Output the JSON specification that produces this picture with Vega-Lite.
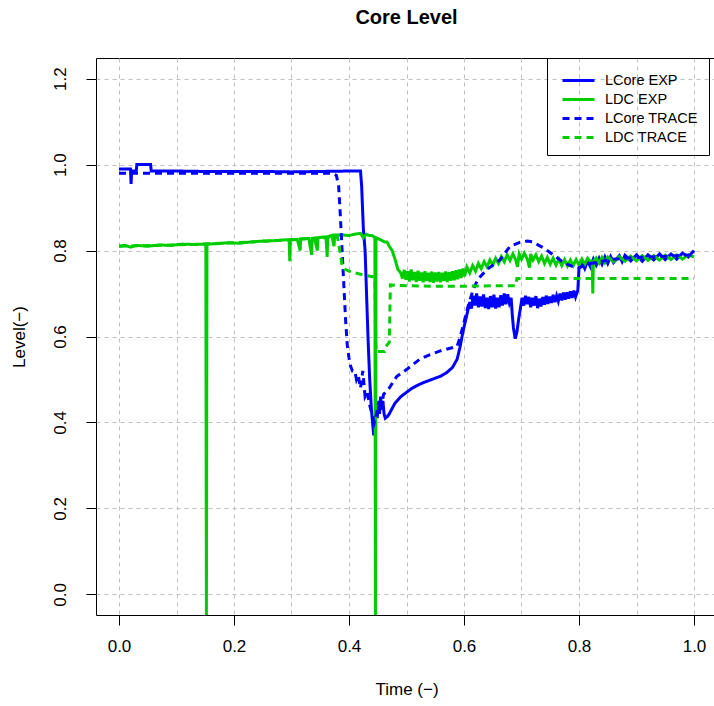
{
"$schema": "https://vega.github.io/schema/vega-lite/v6.json",
"width": 621, "height": 557,
"autosize": {"type": "none"},
"padding": {"left": 96, "top": 58, "right": 0, "bottom": 91},
"background": "white",
"title": {"text": "Core Level", "fontSize": 20, "fontWeight": "bold", "font": "Liberation Sans", "anchor": "middle", "offset": 30, "color": "black"},
"data": {"values": [
{"s":"LCore EXP","t":0,"v":0.99},{"s":"LCore EXP","t":0.01,"v":0.99},{"s":"LCore EXP","t":0.02,"v":0.99},{"s":"LCore EXP","t":0.021,"v":0.955},{"s":"LCore EXP","t":0.022,"v":0.985},{"s":"LCore EXP","t":0.03,"v":0.985},{"s":"LCore EXP","t":0.031,"v":1.0},{"s":"LCore EXP","t":0.055,"v":1.0},{"s":"LCore EXP","t":0.056,"v":0.985},{"s":"LCore EXP","t":0.1,"v":0.985},{"s":"LCore EXP","t":0.15,"v":0.984},{"s":"LCore EXP","t":0.2,"v":0.984},{"s":"LCore EXP","t":0.25,"v":0.984},{"s":"LCore EXP","t":0.3,"v":0.983},{"s":"LCore EXP","t":0.35,"v":0.984},{"s":"LCore EXP","t":0.4,"v":0.985},{"s":"LCore EXP","t":0.42,"v":0.985},{"s":"LCore EXP","t":0.422,"v":0.95},{"s":"LCore EXP","t":0.425,"v":0.85},{"s":"LCore EXP","t":0.428,"v":0.8},{"s":"LCore EXP","t":0.43,"v":0.72},{"s":"LCore EXP","t":0.433,"v":0.6},{"s":"LCore EXP","t":0.436,"v":0.5},{"s":"LCore EXP","t":0.439,"v":0.43},{"s":"LCore EXP","t":0.441,"v":0.4},{"s":"LCore EXP","t":0.443,"v":0.37},{"s":"LCore EXP","t":0.445,"v":0.39},{"s":"LCore EXP","t":0.447,"v":0.43},{"s":"LCore EXP","t":0.449,"v":0.41},{"s":"LCore EXP","t":0.451,"v":0.44},{"s":"LCore EXP","t":0.453,"v":0.42},{"s":"LCore EXP","t":0.455,"v":0.46},{"s":"LCore EXP","t":0.457,"v":0.43},{"s":"LCore EXP","t":0.459,"v":0.45},{"s":"LCore EXP","t":0.461,"v":0.42},{"s":"LCore EXP","t":0.463,"v":0.41},{"s":"LCore EXP","t":0.467,"v":0.414},{"s":"LCore EXP","t":0.47,"v":0.42},{"s":"LCore EXP","t":0.48,"v":0.445},{"s":"LCore EXP","t":0.49,"v":0.46},{"s":"LCore EXP","t":0.5,"v":0.47},{"s":"LCore EXP","t":0.51,"v":0.48},{"s":"LCore EXP","t":0.52,"v":0.487},{"s":"LCore EXP","t":0.53,"v":0.493},{"s":"LCore EXP","t":0.54,"v":0.498},{"s":"LCore EXP","t":0.55,"v":0.503},{"s":"LCore EXP","t":0.56,"v":0.508},{"s":"LCore EXP","t":0.57,"v":0.516},{"s":"LCore EXP","t":0.58,"v":0.528},{"s":"LCore EXP","t":0.588,"v":0.547},{"s":"LCore EXP","t":0.593,"v":0.575},{"s":"LCore EXP","t":0.598,"v":0.61},{"s":"LCore EXP","t":0.604,"v":0.645},{"s":"LCore EXP","t":0.61,"v":0.68},{"s":"LCore EXP","t":0.613,"v":0.665},{"s":"LCore EXP","t":0.616,"v":0.695},{"s":"LCore EXP","t":0.619,"v":0.672},{"s":"LCore EXP","t":0.622,"v":0.7},{"s":"LCore EXP","t":0.625,"v":0.668},{"s":"LCore EXP","t":0.628,"v":0.693},{"s":"LCore EXP","t":0.631,"v":0.67},{"s":"LCore EXP","t":0.634,"v":0.698},{"s":"LCore EXP","t":0.637,"v":0.666},{"s":"LCore EXP","t":0.64,"v":0.69},{"s":"LCore EXP","t":0.643,"v":0.664},{"s":"LCore EXP","t":0.646,"v":0.694},{"s":"LCore EXP","t":0.649,"v":0.668},{"s":"LCore EXP","t":0.652,"v":0.697},{"s":"LCore EXP","t":0.655,"v":0.665},{"s":"LCore EXP","t":0.658,"v":0.69},{"s":"LCore EXP","t":0.661,"v":0.668},{"s":"LCore EXP","t":0.664,"v":0.696},{"s":"LCore EXP","t":0.667,"v":0.672},{"s":"LCore EXP","t":0.67,"v":0.7},{"s":"LCore EXP","t":0.673,"v":0.675},{"s":"LCore EXP","t":0.676,"v":0.698},{"s":"LCore EXP","t":0.679,"v":0.678},{"s":"LCore EXP","t":0.682,"v":0.69},{"s":"LCore EXP","t":0.684,"v":0.65},{"s":"LCore EXP","t":0.686,"v":0.62},{"s":"LCore EXP","t":0.689,"v":0.595},{"s":"LCore EXP","t":0.692,"v":0.61},{"s":"LCore EXP","t":0.695,"v":0.64},{"s":"LCore EXP","t":0.698,"v":0.665},{"s":"LCore EXP","t":0.701,"v":0.69},{"s":"LCore EXP","t":0.704,"v":0.672},{"s":"LCore EXP","t":0.707,"v":0.695},{"s":"LCore EXP","t":0.71,"v":0.675},{"s":"LCore EXP","t":0.713,"v":0.692},{"s":"LCore EXP","t":0.716,"v":0.668},{"s":"LCore EXP","t":0.719,"v":0.69},{"s":"LCore EXP","t":0.722,"v":0.672},{"s":"LCore EXP","t":0.725,"v":0.694},{"s":"LCore EXP","t":0.728,"v":0.666},{"s":"LCore EXP","t":0.731,"v":0.688},{"s":"LCore EXP","t":0.734,"v":0.67},{"s":"LCore EXP","t":0.737,"v":0.692},{"s":"LCore EXP","t":0.74,"v":0.674},{"s":"LCore EXP","t":0.743,"v":0.695},{"s":"LCore EXP","t":0.746,"v":0.676},{"s":"LCore EXP","t":0.749,"v":0.693},{"s":"LCore EXP","t":0.752,"v":0.678},{"s":"LCore EXP","t":0.755,"v":0.697},{"s":"LCore EXP","t":0.758,"v":0.68},{"s":"LCore EXP","t":0.761,"v":0.695},{"s":"LCore EXP","t":0.764,"v":0.682},{"s":"LCore EXP","t":0.767,"v":0.7},{"s":"LCore EXP","t":0.77,"v":0.684},{"s":"LCore EXP","t":0.773,"v":0.702},{"s":"LCore EXP","t":0.776,"v":0.686},{"s":"LCore EXP","t":0.779,"v":0.703},{"s":"LCore EXP","t":0.782,"v":0.688},{"s":"LCore EXP","t":0.785,"v":0.705},{"s":"LCore EXP","t":0.788,"v":0.69},{"s":"LCore EXP","t":0.791,"v":0.707},{"s":"LCore EXP","t":0.794,"v":0.692},{"s":"LCore EXP","t":0.798,"v":0.708},{"s":"LCore EXP","t":0.8,"v":0.76},{"s":"LCore EXP","t":0.805,"v":0.772},{"s":"LCore EXP","t":0.81,"v":0.758},{"s":"LCore EXP","t":0.815,"v":0.776},{"s":"LCore EXP","t":0.82,"v":0.762},{"s":"LCore EXP","t":0.825,"v":0.78},{"s":"LCore EXP","t":0.83,"v":0.766},{"s":"LCore EXP","t":0.835,"v":0.782},{"s":"LCore EXP","t":0.84,"v":0.768},{"s":"LCore EXP","t":0.845,"v":0.785},{"s":"LCore EXP","t":0.85,"v":0.77},{"s":"LCore EXP","t":0.855,"v":0.786},{"s":"LCore EXP","t":0.86,"v":0.772},{"s":"LCore EXP","t":0.87,"v":0.788},{"s":"LCore EXP","t":0.875,"v":0.774},{"s":"LCore EXP","t":0.88,"v":0.789},{"s":"LCore EXP","t":0.89,"v":0.776},{"s":"LCore EXP","t":0.9,"v":0.79},{"s":"LCore EXP","t":0.91,"v":0.775},{"s":"LCore EXP","t":0.92,"v":0.79},{"s":"LCore EXP","t":0.93,"v":0.778},{"s":"LCore EXP","t":0.94,"v":0.792},{"s":"LCore EXP","t":0.95,"v":0.779},{"s":"LCore EXP","t":0.96,"v":0.792},{"s":"LCore EXP","t":0.97,"v":0.78},{"s":"LCore EXP","t":0.98,"v":0.794},{"s":"LCore EXP","t":0.99,"v":0.785},{"s":"LCore EXP","t":1.0,"v":0.8},
{"s":"LDC EXP","t":0,"v":0.81},{"s":"LDC EXP","t":0.01,"v":0.812},{"s":"LDC EXP","t":0.02,"v":0.808},{"s":"LDC EXP","t":0.03,"v":0.812},{"s":"LDC EXP","t":0.05,"v":0.81},{"s":"LDC EXP","t":0.07,"v":0.813},{"s":"LDC EXP","t":0.09,"v":0.812},{"s":"LDC EXP","t":0.11,"v":0.815},{"s":"LDC EXP","t":0.13,"v":0.814},{"s":"LDC EXP","t":0.151,"v":0.815},{"s":"LDC EXP","t":0.152,"v":-0.06},{"s":"LDC EXP","t":0.153,"v":0.815},{"s":"LDC EXP","t":0.17,"v":0.816},{"s":"LDC EXP","t":0.19,"v":0.818},{"s":"LDC EXP","t":0.21,"v":0.817},{"s":"LDC EXP","t":0.23,"v":0.82},{"s":"LDC EXP","t":0.25,"v":0.822},{"s":"LDC EXP","t":0.27,"v":0.823},{"s":"LDC EXP","t":0.29,"v":0.825},{"s":"LDC EXP","t":0.296,"v":0.824},{"s":"LDC EXP","t":0.297,"v":0.775},{"s":"LDC EXP","t":0.298,"v":0.825},{"s":"LDC EXP","t":0.31,"v":0.826},{"s":"LDC EXP","t":0.315,"v":0.8},{"s":"LDC EXP","t":0.316,"v":0.827},{"s":"LDC EXP","t":0.33,"v":0.828},{"s":"LDC EXP","t":0.335,"v":0.79},{"s":"LDC EXP","t":0.336,"v":0.828},{"s":"LDC EXP","t":0.34,"v":0.829},{"s":"LDC EXP","t":0.345,"v":0.8},{"s":"LDC EXP","t":0.346,"v":0.83},{"s":"LDC EXP","t":0.36,"v":0.832},{"s":"LDC EXP","t":0.362,"v":0.785},{"s":"LDC EXP","t":0.363,"v":0.832},{"s":"LDC EXP","t":0.37,"v":0.835},{"s":"LDC EXP","t":0.374,"v":0.81},{"s":"LDC EXP","t":0.375,"v":0.836},{"s":"LDC EXP","t":0.39,"v":0.836},{"s":"LDC EXP","t":0.4,"v":0.835},{"s":"LDC EXP","t":0.41,"v":0.838},{"s":"LDC EXP","t":0.42,"v":0.84},{"s":"LDC EXP","t":0.425,"v":0.83},{"s":"LDC EXP","t":0.43,"v":0.838},{"s":"LDC EXP","t":0.435,"v":0.835},{"s":"LDC EXP","t":0.44,"v":0.835},{"s":"LDC EXP","t":0.445,"v":0.83},{"s":"LDC EXP","t":0.446,"v":-0.06},{"s":"LDC EXP","t":0.447,"v":0.83},{"s":"LDC EXP","t":0.455,"v":0.825},{"s":"LDC EXP","t":0.462,"v":0.82},{"s":"LDC EXP","t":0.466,"v":0.82},{"s":"LDC EXP","t":0.47,"v":0.81},{"s":"LDC EXP","t":0.475,"v":0.8},{"s":"LDC EXP","t":0.48,"v":0.78},{"s":"LDC EXP","t":0.485,"v":0.756},{"s":"LDC EXP","t":0.49,"v":0.748},{"s":"LDC EXP","t":0.493,"v":0.735},{"s":"LDC EXP","t":0.496,"v":0.755},{"s":"LDC EXP","t":0.499,"v":0.732},{"s":"LDC EXP","t":0.502,"v":0.752},{"s":"LDC EXP","t":0.505,"v":0.728},{"s":"LDC EXP","t":0.508,"v":0.756},{"s":"LDC EXP","t":0.511,"v":0.731},{"s":"LDC EXP","t":0.514,"v":0.75},{"s":"LDC EXP","t":0.517,"v":0.727},{"s":"LDC EXP","t":0.52,"v":0.753},{"s":"LDC EXP","t":0.523,"v":0.73},{"s":"LDC EXP","t":0.526,"v":0.749},{"s":"LDC EXP","t":0.529,"v":0.726},{"s":"LDC EXP","t":0.532,"v":0.752},{"s":"LDC EXP","t":0.535,"v":0.729},{"s":"LDC EXP","t":0.538,"v":0.748},{"s":"LDC EXP","t":0.541,"v":0.727},{"s":"LDC EXP","t":0.544,"v":0.751},{"s":"LDC EXP","t":0.547,"v":0.725},{"s":"LDC EXP","t":0.55,"v":0.749},{"s":"LDC EXP","t":0.553,"v":0.728},{"s":"LDC EXP","t":0.556,"v":0.75},{"s":"LDC EXP","t":0.559,"v":0.726},{"s":"LDC EXP","t":0.562,"v":0.748},{"s":"LDC EXP","t":0.565,"v":0.729},{"s":"LDC EXP","t":0.568,"v":0.751},{"s":"LDC EXP","t":0.571,"v":0.727},{"s":"LDC EXP","t":0.574,"v":0.75},{"s":"LDC EXP","t":0.577,"v":0.73},{"s":"LDC EXP","t":0.58,"v":0.752},{"s":"LDC EXP","t":0.583,"v":0.731},{"s":"LDC EXP","t":0.586,"v":0.754},{"s":"LDC EXP","t":0.589,"v":0.733},{"s":"LDC EXP","t":0.592,"v":0.756},{"s":"LDC EXP","t":0.595,"v":0.736},{"s":"LDC EXP","t":0.598,"v":0.758},{"s":"LDC EXP","t":0.601,"v":0.74},{"s":"LDC EXP","t":0.605,"v":0.762},{"s":"LDC EXP","t":0.61,"v":0.748},{"s":"LDC EXP","t":0.615,"v":0.765},{"s":"LDC EXP","t":0.62,"v":0.752},{"s":"LDC EXP","t":0.625,"v":0.77},{"s":"LDC EXP","t":0.63,"v":0.758},{"s":"LDC EXP","t":0.635,"v":0.774},{"s":"LDC EXP","t":0.64,"v":0.762},{"s":"LDC EXP","t":0.645,"v":0.778},{"s":"LDC EXP","t":0.65,"v":0.766},{"s":"LDC EXP","t":0.655,"v":0.782},{"s":"LDC EXP","t":0.66,"v":0.77},{"s":"LDC EXP","t":0.665,"v":0.786},{"s":"LDC EXP","t":0.67,"v":0.774},{"s":"LDC EXP","t":0.675,"v":0.79},{"s":"LDC EXP","t":0.68,"v":0.777},{"s":"LDC EXP","t":0.685,"v":0.792},{"s":"LDC EXP","t":0.69,"v":0.778},{"s":"LDC EXP","t":0.693,"v":0.762},{"s":"LDC EXP","t":0.696,"v":0.792},{"s":"LDC EXP","t":0.7,"v":0.78},{"s":"LDC EXP","t":0.705,"v":0.794},{"s":"LDC EXP","t":0.71,"v":0.78},{"s":"LDC EXP","t":0.714,"v":0.76},{"s":"LDC EXP","t":0.716,"v":0.792},{"s":"LDC EXP","t":0.72,"v":0.778},{"s":"LDC EXP","t":0.725,"v":0.79},{"s":"LDC EXP","t":0.73,"v":0.774},{"s":"LDC EXP","t":0.735,"v":0.787},{"s":"LDC EXP","t":0.74,"v":0.77},{"s":"LDC EXP","t":0.745,"v":0.784},{"s":"LDC EXP","t":0.75,"v":0.768},{"s":"LDC EXP","t":0.755,"v":0.782},{"s":"LDC EXP","t":0.76,"v":0.766},{"s":"LDC EXP","t":0.765,"v":0.78},{"s":"LDC EXP","t":0.77,"v":0.765},{"s":"LDC EXP","t":0.775,"v":0.779},{"s":"LDC EXP","t":0.78,"v":0.764},{"s":"LDC EXP","t":0.785,"v":0.778},{"s":"LDC EXP","t":0.79,"v":0.765},{"s":"LDC EXP","t":0.795,"v":0.779},{"s":"LDC EXP","t":0.8,"v":0.766},{"s":"LDC EXP","t":0.805,"v":0.78},{"s":"LDC EXP","t":0.81,"v":0.768},{"s":"LDC EXP","t":0.815,"v":0.782},{"s":"LDC EXP","t":0.823,"v":0.77},{"s":"LDC EXP","t":0.824,"v":0.7},{"s":"LDC EXP","t":0.825,"v":0.775},{"s":"LDC EXP","t":0.83,"v":0.783},{"s":"LDC EXP","t":0.835,"v":0.771},{"s":"LDC EXP","t":0.84,"v":0.784},{"s":"LDC EXP","t":0.845,"v":0.772},{"s":"LDC EXP","t":0.85,"v":0.785},{"s":"LDC EXP","t":0.86,"v":0.774},{"s":"LDC EXP","t":0.87,"v":0.786},{"s":"LDC EXP","t":0.88,"v":0.775},{"s":"LDC EXP","t":0.89,"v":0.787},{"s":"LDC EXP","t":0.9,"v":0.776},{"s":"LDC EXP","t":0.91,"v":0.788},{"s":"LDC EXP","t":0.92,"v":0.777},{"s":"LDC EXP","t":0.93,"v":0.788},{"s":"LDC EXP","t":0.94,"v":0.778},{"s":"LDC EXP","t":0.95,"v":0.789},{"s":"LDC EXP","t":0.96,"v":0.779},{"s":"LDC EXP","t":0.97,"v":0.79},{"s":"LDC EXP","t":0.98,"v":0.78},{"s":"LDC EXP","t":0.99,"v":0.79},{"s":"LDC EXP","t":1.0,"v":0.785},
{"s":"LCore TRACE","t":0,"v":0.98},{"s":"LCore TRACE","t":0.05,"v":0.98},{"s":"LCore TRACE","t":0.1,"v":0.98},{"s":"LCore TRACE","t":0.2,"v":0.98},{"s":"LCore TRACE","t":0.3,"v":0.98},{"s":"LCore TRACE","t":0.37,"v":0.98},{"s":"LCore TRACE","t":0.378,"v":0.975},{"s":"LCore TRACE","t":0.382,"v":0.95},{"s":"LCore TRACE","t":0.385,"v":0.88},{"s":"LCore TRACE","t":0.388,"v":0.8},{"s":"LCore TRACE","t":0.391,"v":0.72},{"s":"LCore TRACE","t":0.394,"v":0.64},{"s":"LCore TRACE","t":0.397,"v":0.58},{"s":"LCore TRACE","t":0.4,"v":0.55},{"s":"LCore TRACE","t":0.403,"v":0.53},{"s":"LCore TRACE","t":0.406,"v":0.52},{"s":"LCore TRACE","t":0.41,"v":0.52},{"s":"LCore TRACE","t":0.413,"v":0.5},{"s":"LCore TRACE","t":0.416,"v":0.51},{"s":"LCore TRACE","t":0.42,"v":0.48},{"s":"LCore TRACE","t":0.424,"v":0.52},{"s":"LCore TRACE","t":0.428,"v":0.46},{"s":"LCore TRACE","t":0.432,"v":0.47},{"s":"LCore TRACE","t":0.436,"v":0.44},{"s":"LCore TRACE","t":0.44,"v":0.42},{"s":"LCore TRACE","t":0.444,"v":0.4},{"s":"LCore TRACE","t":0.448,"v":0.42},{"s":"LCore TRACE","t":0.452,"v":0.45},{"s":"LCore TRACE","t":0.456,"v":0.43},{"s":"LCore TRACE","t":0.46,"v":0.465},{"s":"LCore TRACE","t":0.47,"v":0.48},{"s":"LCore TRACE","t":0.483,"v":0.507},{"s":"LCore TRACE","t":0.5,"v":0.523},{"s":"LCore TRACE","t":0.523,"v":0.547},{"s":"LCore TRACE","t":0.541,"v":0.558},{"s":"LCore TRACE","t":0.56,"v":0.567},{"s":"LCore TRACE","t":0.588,"v":0.577},{"s":"LCore TRACE","t":0.593,"v":0.598},{"s":"LCore TRACE","t":0.598,"v":0.623},{"s":"LCore TRACE","t":0.607,"v":0.67},{"s":"LCore TRACE","t":0.616,"v":0.709},{"s":"LCore TRACE","t":0.624,"v":0.733},{"s":"LCore TRACE","t":0.64,"v":0.756},{"s":"LCore TRACE","t":0.663,"v":0.779},{"s":"LCore TRACE","t":0.68,"v":0.81},{"s":"LCore TRACE","t":0.697,"v":0.819},{"s":"LCore TRACE","t":0.71,"v":0.822},{"s":"LCore TRACE","t":0.72,"v":0.82},{"s":"LCore TRACE","t":0.73,"v":0.812},{"s":"LCore TRACE","t":0.74,"v":0.805},{"s":"LCore TRACE","t":0.75,"v":0.795},{"s":"LCore TRACE","t":0.76,"v":0.785},{"s":"LCore TRACE","t":0.77,"v":0.775},{"s":"LCore TRACE","t":0.78,"v":0.768},{"s":"LCore TRACE","t":0.79,"v":0.762},{"s":"LCore TRACE","t":0.8,"v":0.76},{"s":"LCore TRACE","t":0.81,"v":0.765},{"s":"LCore TRACE","t":0.82,"v":0.77},{"s":"LCore TRACE","t":0.84,"v":0.775},{"s":"LCore TRACE","t":0.86,"v":0.78},{"s":"LCore TRACE","t":0.88,"v":0.782},{"s":"LCore TRACE","t":0.9,"v":0.784},{"s":"LCore TRACE","t":0.94,"v":0.786},{"s":"LCore TRACE","t":0.97,"v":0.788},{"s":"LCore TRACE","t":1.0,"v":0.79},
{"s":"LDC TRACE","t":0,"v":0.81},{"s":"LDC TRACE","t":0.1,"v":0.813},{"s":"LDC TRACE","t":0.2,"v":0.818},{"s":"LDC TRACE","t":0.3,"v":0.825},{"s":"LDC TRACE","t":0.38,"v":0.832},{"s":"LDC TRACE","t":0.384,"v":0.8},{"s":"LDC TRACE","t":0.388,"v":0.765},{"s":"LDC TRACE","t":0.392,"v":0.757},{"s":"LDC TRACE","t":0.4,"v":0.752},{"s":"LDC TRACE","t":0.41,"v":0.748},{"s":"LDC TRACE","t":0.42,"v":0.745},{"s":"LDC TRACE","t":0.43,"v":0.742},{"s":"LDC TRACE","t":0.437,"v":0.74},{"s":"LDC TRACE","t":0.445,"v":0.738},{"s":"LDC TRACE","t":0.447,"v":0.565},{"s":"LDC TRACE","t":0.462,"v":0.565},{"s":"LDC TRACE","t":0.466,"v":0.58},{"s":"LDC TRACE","t":0.47,"v":0.586},{"s":"LDC TRACE","t":0.472,"v":0.72},{"s":"LDC TRACE","t":0.5,"v":0.718},{"s":"LDC TRACE","t":0.55,"v":0.717},{"s":"LDC TRACE","t":0.6,"v":0.717},{"s":"LDC TRACE","t":0.65,"v":0.718},{"s":"LDC TRACE","t":0.69,"v":0.718},{"s":"LDC TRACE","t":0.692,"v":0.735},{"s":"LDC TRACE","t":0.75,"v":0.735},{"s":"LDC TRACE","t":0.8,"v":0.735},{"s":"LDC TRACE","t":0.9,"v":0.735},{"s":"LDC TRACE","t":1.0,"v":0.735}
]},
"mark": {"type": "line", "clip": true},
"encoding": {
"x": {"field": "t", "type": "quantitative", "scale": {"domain": [-0.04, 1.04], "nice": false, "zero": false},
 "axis": {"title": "Time (\u2212)", "values": [0,0.1,0.2,0.3,0.4,0.5,0.6,0.7,0.8,0.9,1.0],
  "labelExpr": "round(datum.value*10)%2==0 ? format(datum.value,'.1f') : ''",
  "tickOpacity": {"condition": {"test": "round(datum.value*10)%2==0", "value": 1}, "value": 0},
  "labelPadding": 13, "titlePadding": 27, "labelFlush": false, "labelOverlap": false}},
"y": {"field": "v", "type": "quantitative", "scale": {"domain": [-0.048, 1.248], "nice": false, "zero": false},
 "axis": {"title": "Level(\u2212)", "values": [0,0.2,0.4,0.6,0.8,1.0,1.2], "format": ".1f",
  "labelAngle": 270, "labelAlign": "center", "labelBaseline": "bottom", "labelPadding": 17, "titlePadding": 23, "labelFlush": false, "labelOverlap": false}},
"strokeWidth": {"field": "s", "type": "nominal", "legend": null,
 "scale": {"domain": ["LCore EXP","LDC EXP","LCore TRACE","LDC TRACE"], "range": [3,3,2.5,2.5]}},
"color": {"field": "s", "type": "nominal", "sort": null,
 "scale": {"domain": ["LCore EXP","LDC EXP","LCore TRACE","LDC TRACE"], "range": ["#0000FF","#00CD00","#0000FF","#00CD00"]},
 "legend": {"orient": "none", "legendX": 451, "legendY": 0, "title": null, "symbolType": "M-1.6,0H1.6", "symbolSize": 400, "symbolStrokeWidth": 1.5, "labelFontSize": 14.5, "labelFont": "Liberation Sans", "labelColor": "black", "labelOffset": 15, "symbolOffset": 9, "padding": 11, "strokeColor": "black", "rowPadding": 1}},
"strokeDash": {"field": "s", "type": "nominal", "sort": null,
 "scale": {"domain": ["LCore EXP","LDC EXP","LCore TRACE","LDC TRACE"], "range": [[1,0],[1,0],[7,5],[7,5]]},
 "legend": {"orient": "none", "legendX": 451, "legendY": 0, "title": null, "symbolType": "M-1.6,0H1.6", "symbolSize": 400, "symbolStrokeWidth": 1.5, "labelFontSize": 14.5, "labelFont": "Liberation Sans", "labelColor": "black", "labelOffset": 15, "symbolOffset": 9, "padding": 11, "strokeColor": "black", "rowPadding": 1}}
},
"config": {
"view": {"stroke": "black", "strokeWidth": 1},
"legend": {"symbolStrokeWidth": 1.5},
"axis": {"domain": false, "labelFont": "Liberation Sans", "titleFont": "Liberation Sans", "labelFontSize": 17, "titleFontSize": 17, "labelColor": "black", "titleColor": "black", "titleFontWeight": "normal", "tickColor": "black", "tickWidth": 1, "tickSize": 10, "gridColor": "#c0c0c0", "gridDash": [4, 4], "gridWidth": 1}
}
}
